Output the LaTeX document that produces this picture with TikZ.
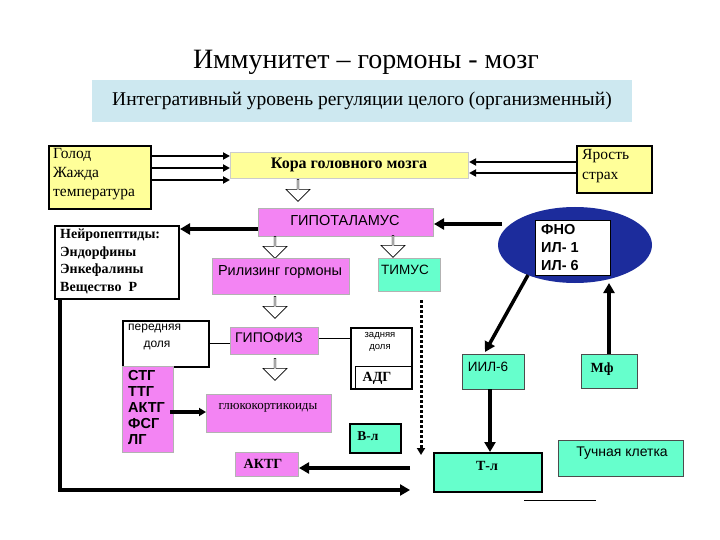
\documentclass[tikz,border=0pt]{standalone}
\usepackage{fontspec}
\setmainfont{Liberation Serif}
\newfontfamily\sansf{Liberation Sans}
\usetikzlibrary{arrows.meta,shapes.arrows}
\definecolor{yel}{HTML}{FFFF99}
\definecolor{mag}{HTML}{F384F3}
\definecolor{aqu}{HTML}{66FFCC}
\definecolor{band}{HTML}{CDE8F0}
\definecolor{ell}{HTML}{1C2C9C}
\begin{document}
\begin{tikzpicture}[x=1pt,y=-1pt,
 bx/.style={draw,line width=1pt,anchor=north west,inner sep=3pt},
 ar/.style={line width=3.5pt,-{Triangle[length=10pt,width=11pt]}},
 har/.style={single arrow,draw,fill=white,shape border rotate=270,minimum height=22pt,minimum width=24pt,single arrow head extend=4pt,inner sep=0pt,line width=0.6pt}]
\useasboundingbox (0,0) rectangle (720,540);
\node (title) at (366,62) {\fontsize{28}{30}\selectfont Иммунитет – гормоны - мозг};
\node[fill=band,minimum width=540pt,minimum height=42pt] (band) at (362,101) {\fontsize{19.5}{22}\selectfont Интегративный уровень регуляции целого (организменный)};
\node[bx,fill=yel,line width=2pt,minimum width=102pt,minimum height=63pt] (golod) at (48,145) {};
\node[anchor=north west,align=left,font=\fontsize{15.5}{19}\selectfont,inner sep=0pt] at (53,148) {Голод\\Жажда\\температура};
\node[bx,fill=yel,draw=gray!40,minimum width=238pt,minimum height=26pt] (kora) at (230,152) {};
\node[font=\bfseries\fontsize{16}{18}\selectfont] at (349,165) {Кора головного мозга};
\node[bx,fill=yel,line width=2pt,minimum width=75pt,minimum height=47pt] (jar) at (576,145) {};
\node[anchor=north west,align=left,font=\fontsize{15.5}{20}\selectfont,inner sep=0pt] at (582,149) {Ярость\\страх};
\foreach \y in {156,168,180}{\draw[line width=2.5pt,-{Triangle[length=7pt,width=7pt]}] (golod.east|-0,\y) -- (kora.west|-0,\y);}
\foreach \y in {162,173}{\draw[line width=2.5pt,-{Triangle[length=7pt,width=7pt]}] (jar.west|-0,\y) -- (kora.east|-0,\y);}
\node[har] (h1) at (298,190) {};
\node[bx,fill=mag,draw=gray!60,minimum width=175pt,minimum height=28pt] (hyp) at (258,208) {};
\node[font=\sansf\fontsize{14.5}{16}\selectfont] at (345,221) {ГИПОТАЛАМУС};
\node[bx,line width=2pt,fill=white,minimum width=124pt,minimum height=73pt] (neuro) at (54,225) {};
\node[anchor=north west,align=left,font=\bfseries\fontsize{14}{17.5}\selectfont,inner sep=0pt] at (60,229) {Нейропептиды:\\Эндорфины\\Энкефалины\\Вещество\ \ Р};
\draw[ar] (hyp.west|-0,229) -- (neuro.east|-0,229);
\fill[ell] (575,245) ellipse [x radius=77, y radius=38];
\node[bx,fill=white,minimum width=75pt,minimum height=55pt] (fno) at (535,220) {};
\node[anchor=north west,align=left,font=\sansf\bfseries\fontsize{14.5}{18}\selectfont,inner sep=0pt] at (541,224) {ФНО\\ИЛ- 1\\ИЛ- 6};
\coordinate (ellw) at (502,224);
\draw[ar] (ellw) -- (hyp.east|-0,224);
\node[har] (h2) at (275,247) {};
\node[har] (h3) at (393,246) {};
\node[bx,fill=mag,draw=gray!60,minimum width=137pt,minimum height=36pt] (ril) at (212,258) {};
\node[font=\sansf\fontsize{14.5}{16}\selectfont] at (280,272) {Рилизинг гормоны};
\node[bx,fill=aqu,draw=gray!60,minimum width=62pt,minimum height=33pt] (tim) at (378,258) {};
\node[font=\sansf\fontsize{13.5}{15}\selectfont] at (405,270) {ТИМУС};
\node[har] (h4) at (275,307) {};
\node[bx,line width=2pt,fill=white,minimum width=86pt,minimum height=46pt] (pered) at (122,320) {};
\node[anchor=north west,font=\sansf\fontsize{12}{17}\selectfont,align=left,inner sep=0pt] at (128,324) {передняя\\\quad\ доля};
\node[bx,fill=mag,draw=gray!60,minimum width=88pt,minimum height=27pt] (gip) at (230,327) {};
\node[font=\sansf\fontsize{14}{16}\selectfont] at (269,338) {ГИПОФИЗ};
\draw (pered.east|-0,343) -- (gip.west|-0,343);
\node[bx,line width=2pt,fill=white,minimum width=61pt,minimum height=61pt] (zad) at (350,327) {};
\node[font=\sansf\fontsize{9.5}{12}\selectfont,align=center] at (380,342) {задняя\\доля};
\draw (gip.east|-0,338) -- (zad.west|-0,338);
\node[bx,fill=white,line width=0.5pt,minimum width=56pt,minimum height=22pt] (adg) at (355,366) {};
\node[font=\bfseries\fontsize{14}{16}\selectfont] at (377,378) {АДГ};
\node[bx,fill=mag,draw=gray!60,minimum width=51pt,minimum height=86pt] (list) at (122,366) {};
\node[anchor=north west,align=left,font=\sansf\bfseries\fontsize{14.5}{16}\selectfont,inner sep=0pt] at (128,370) {СТГ\\ТТГ\\АКТГ\\ФСГ\\ЛГ};
\node[har] (h5) at (275,369) {};
\node[bx,fill=mag,draw=gray!60,minimum width=125pt,minimum height=38pt] (glu) at (206,394) {};
\node[font=\fontsize{13}{15}\selectfont] at (268,408) {глюкокортикоиды};
\draw[line width=3.5pt,-{Triangle[length=7pt,width=8pt]}] (170,412) -- (glu.west|-0,412);
\node[bx,fill=mag,draw=gray!60,minimum width=63pt,minimum height=24pt] (aktg) at (235,452) {};
\node[font=\bfseries\fontsize{14}{16}\selectfont] at (263,464) {АКТГ};
\coordinate (aktgfrom) at (410,468);
\draw[ar] (aktgfrom) -- (aktg.east|-0,468);
\node[bx,fill=aqu,line width=1.5pt,minimum width=51pt,minimum height=29pt] (bl) at (349,423) {};
\node[font=\bfseries\fontsize{13.5}{15}\selectfont] at (368,436) {В-л};
\coordinate (dtop) at (421,300);
\draw[line width=3pt,dotted,-{Triangle[length=7pt,width=8pt]}] (dtop) -- (421,455);
\coordinate (corner) at (60,490);
\coordinate (bend) at (410,490);
\draw[line width=3.5pt,-{Triangle[length=10pt,width=11pt]}] (neuro.south-|corner) -- (corner) -- (bend);
\node[bx,fill=aqu,draw=black!70,minimum width=62pt,minimum height=35pt] (iil) at (462,354) {};
\node[font=\sansf\fontsize{13.5}{15}\selectfont] at (488,367) {ИИЛ-6};
\coordinate (ells) at (528,275);
\draw[ar] (ells) -- (485,352);
\node[bx,fill=aqu,draw=black!70,minimum width=56pt,minimum height=34pt] (mf) at (581,354) {};
\node[font=\bfseries\fontsize{14}{16}\selectfont] at (602,369) {Мф};
\draw[ar] (609,354) -- (609,283);
\node[bx,fill=aqu,line width=2pt,minimum width=108pt,minimum height=39pt] (tl) at (433,452) {};
\node[font=\bfseries\fontsize{14}{16}\selectfont] at (487,466) {Т-л};
\draw[ar] (490,389) -- (tl.north-|490,0);
\node[bx,fill=aqu,draw=black!70,minimum width=125pt,minimum height=36pt] (tuch) at (558,440) {};
\node[font=\sansf\fontsize{14}{16}\selectfont] at (622,453) {Тучная клетка};
\draw (524,500) -- (596,500);
\end{tikzpicture}
\end{document}
